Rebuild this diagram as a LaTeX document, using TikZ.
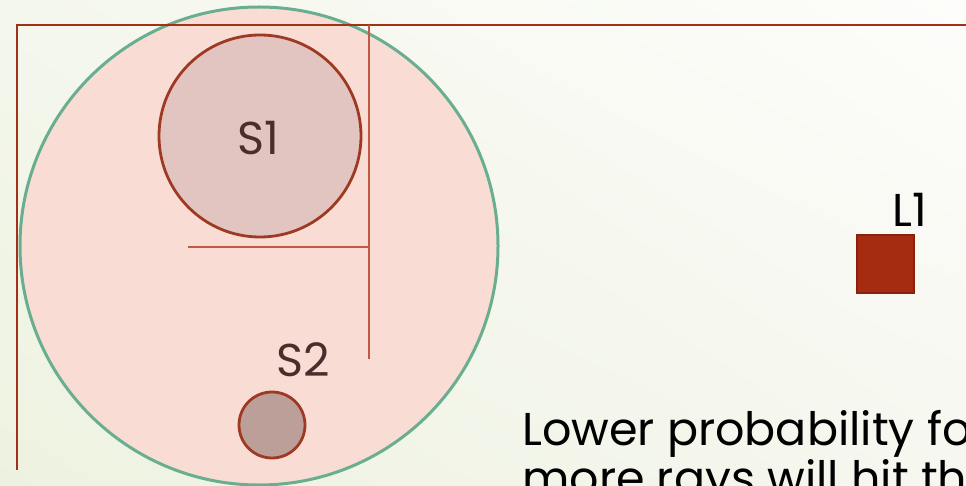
\documentclass[tikz,border=0pt]{standalone}
\usepackage{fontspec}
\setmainfont{Poppins}
\usetikzlibrary{shadings}
\definecolor{frameRed}{HTML}{A33118}
\definecolor{thinRed}{HTML}{C05A46}
\definecolor{bigFill}{HTML}{F9DDD5}
\definecolor{bigEdge}{HTML}{6AAE90}
\definecolor{sOneFill}{HTML}{E2C5C0}
\definecolor{sTwoFill}{HTML}{BD9F9A}
\definecolor{sEdge}{HTML}{9E3A24}
\definecolor{lightFill}{HTML}{A52C10}
\definecolor{lightEdge}{HTML}{86220E}
\definecolor{labelDark}{HTML}{4A2E2C}
\definecolor{bgLL}{HTML}{EDF2E0}
\definecolor{bgUL}{HTML}{F4F7EC}
\definecolor{bgLR}{HTML}{F6F7EF}
\definecolor{bgUR}{HTML}{FDFDFB}
\begin{document}
\begin{tikzpicture}[x=1pt,y=-1pt,
  framestyle/.style={draw=frameRed,line width=2.4pt},
  thinstyle/.style={draw=thinRed,line width=1.8pt},
  sphere/.style={circle,draw=sEdge,line width=2.8pt,inner sep=0pt},
  lbl/.style={font=\fontsize{46}{48}\selectfont,inner sep=0pt}]
\useasboundingbox (0,0) rectangle (966,486);
\clip (0,0) rectangle (966,486);
\shade[lower left=bgLL,upper left=bgUL,lower right=bgLR,upper right=bgUR] (0,0) rectangle (966,486);
% big circle
\node[circle,draw=bigEdge,fill=bigFill,line width=3pt,minimum size=478pt,inner sep=0pt] (big) at (259,246) {};
% frame lines
\coordinate (tl) at (17,25);
\coordinate (tr) at (966,25);
\coordinate (bl) at (17,470);
\draw[framestyle] (tr) -- (tl) -- (bl);
% inner box lines
\coordinate (vt) at (369,25);
\coordinate (vb) at (369,359);
\coordinate (hl) at (188,247);
\coordinate (hr) at (369,247);
\draw[thinstyle] (vt) -- (vb);
\draw[thinstyle] (hl) -- (hr);
% spheres
\node[sphere,fill=sOneFill,minimum size=202pt] (s1) at (260,136) {};
\node[lbl,text=labelDark] (s1l) at (258,138) {S1};
\node[sphere,fill=sTwoFill,minimum size=66pt] (s2) at (272,425) {};
\node[lbl,text=labelDark] (s2l) at (303,360) {S2};
% light
\node[draw=lightEdge,fill=lightFill,line width=2pt,minimum size=57pt,inner sep=0pt] (l1) at (885,264) {};
\node[lbl,text=black] (l1l) at (910,210) {L1};
% text (cut off at the right and bottom edges, as in the reference)
\node[lbl,anchor=base west,text=black] (txta) at (522,445) {Lower probability for};
\node[lbl,anchor=base west,text=black] (txtb) at (522,494) {more rays will hit the};
\end{tikzpicture}
\end{document}
